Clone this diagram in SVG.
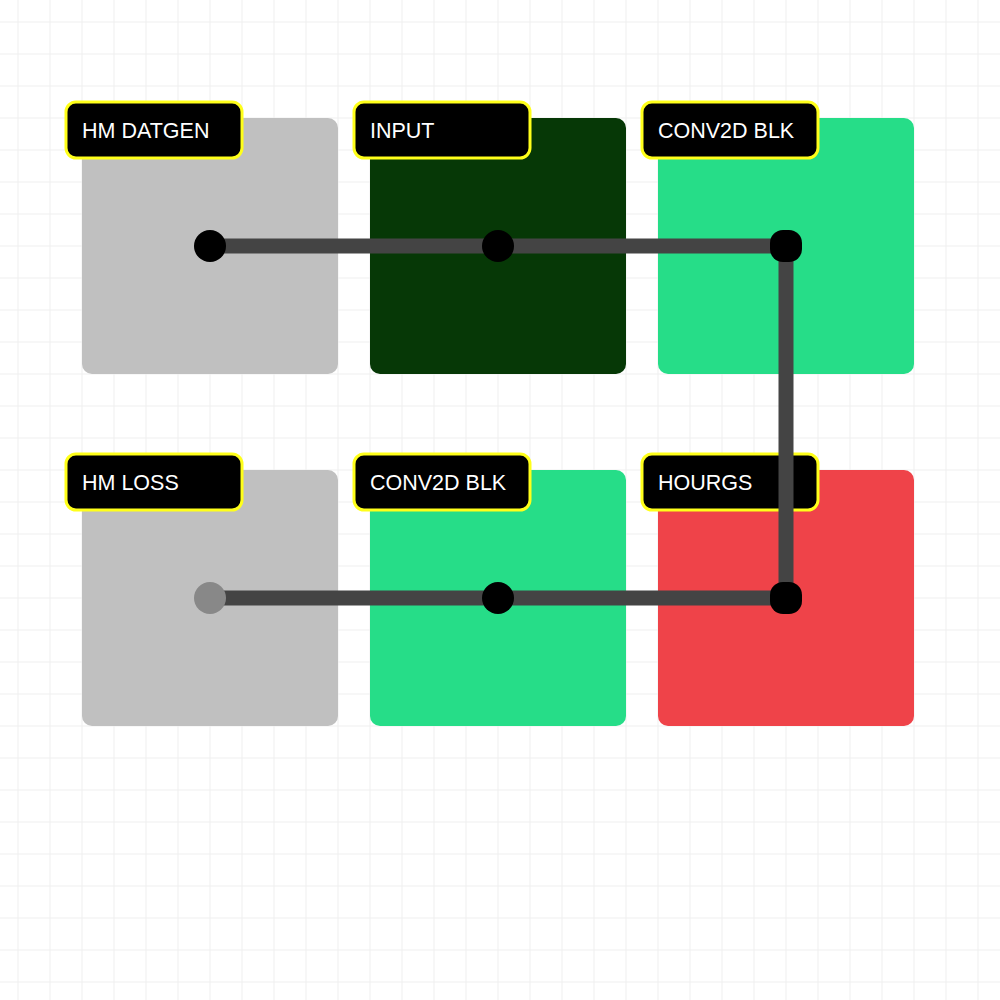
<svg xmlns="http://www.w3.org/2000/svg" width="1000" height="1000" viewBox="0 0 1000 1000">
  <defs>
    <pattern id="grid" x="17.5" y="21.5" width="32" height="32" patternUnits="userSpaceOnUse">
      <path d="M0 0 H32 M0 0 V32" fill="none" stroke="#efefef" stroke-width="2"/>
    </pattern>
  </defs>
  <style>
    .box { stroke: none; }
    .lbl { fill: #000; stroke: #ffff1a; stroke-width: 3; }
    .txt { font-family: "Liberation Sans", Arial, sans-serif; font-size: 21.5px; fill: #fff; }
    .wire { fill: none; stroke: #444; stroke-width: 15; stroke-linejoin: miter; }
    .dot { fill: #000; }
  </style>
  <rect width="1000" height="1000" fill="#fff"/>
  <rect width="1000" height="1000" fill="url(#grid)"/>

  <g id="node-hm-datgen">
    <rect class="box" x="82" y="118" width="256" height="256" rx="10" fill="#c0c0c0"/>
    <rect class="lbl" x="66" y="102" width="176" height="56" rx="10"/>
    <text class="txt" x="82" y="138">HM DATGEN</text>
  </g>
  <g id="node-input">
    <rect class="box" x="370" y="118" width="256" height="256" rx="10" fill="#063806"/>
    <rect class="lbl" x="354" y="102" width="176" height="56" rx="10"/>
    <text class="txt" x="370" y="138">INPUT</text>
  </g>
  <g id="node-conv2d-blk-1">
    <rect class="box" x="658" y="118" width="256" height="256" rx="10" fill="#26dd88"/>
    <rect class="lbl" x="642" y="102" width="176" height="56" rx="10"/>
    <text class="txt" x="658" y="138">CONV2D BLK</text>
  </g>
  <g id="node-hm-loss">
    <rect class="box" x="82" y="470" width="256" height="256" rx="10" fill="#c0c0c0"/>
    <rect class="lbl" x="66" y="454" width="176" height="56" rx="10"/>
    <text class="txt" x="82" y="490">HM LOSS</text>
  </g>
  <g id="node-conv2d-blk-2">
    <rect class="box" x="370" y="470" width="256" height="256" rx="10" fill="#26dd88"/>
    <rect class="lbl" x="354" y="454" width="176" height="56" rx="10"/>
    <text class="txt" x="370" y="490">CONV2D BLK</text>
  </g>
  <g id="node-hourgs">
    <rect class="box" x="658" y="470" width="256" height="256" rx="10" fill="#ef4349"/>
    <rect class="lbl" x="642" y="454" width="176" height="56" rx="10"/>
    <text class="txt" x="658" y="490">HOURGS</text>
  </g>

  <g id="connectors">
    <path class="wire" d="M210 246 H786 V598 H210"/>
  </g>

  <g id="ports">
    <circle class="dot" cx="210" cy="246" r="16"/>
    <circle class="dot" cx="498" cy="246" r="16"/>
    <rect class="dot" x="770" y="230" width="32" height="32" rx="13"/>
    <rect class="dot" x="770" y="582" width="32" height="32" rx="13"/>
    <circle class="dot" cx="498" cy="598" r="16"/>
    <circle cx="210" cy="598" r="16" fill="#888"/>
  </g>
</svg>
